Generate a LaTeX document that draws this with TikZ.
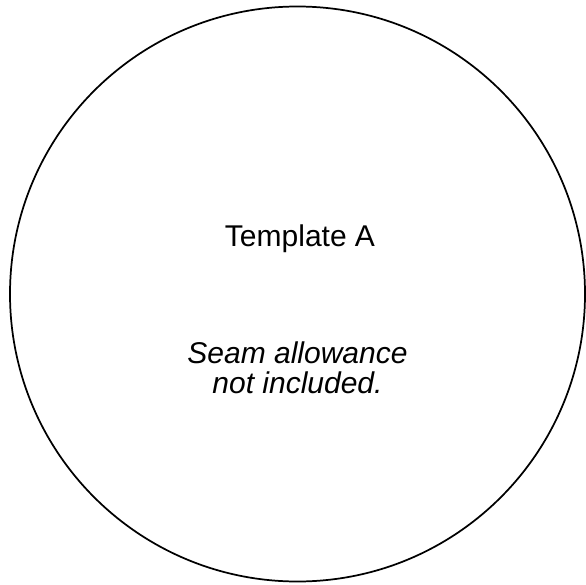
\documentclass[tikz,border=0pt]{standalone}
\usepackage{fontspec}
\setmainfont{Liberation Sans}
\begin{document}
\begin{tikzpicture}[x=0.75pt,y=-0.75pt,
  outline/.style={draw=black, line width=1.3pt},
  lbl/.style={anchor=base, inner sep=0pt, font=\fontsize{22.5pt}{22.5pt}\selectfont, align=center}]
\useasboundingbox (0,0) rectangle (586,585);
\node[outline, circle, minimum size=575*0.75pt, inner sep=0pt] (tpl) at (297.5,294) {};
\node[lbl] (title) at (300,246.5) {Template A};
\node[lbl, font=\fontsize{22.5pt}{22.5pt}\selectfont\itshape] (note1) at (297.5,363) {Seam allowance};
\node[lbl, font=\fontsize{22.5pt}{22.5pt}\selectfont\itshape] (note2) at (297.5,393) {not included.};
\end{tikzpicture}
\end{document}
